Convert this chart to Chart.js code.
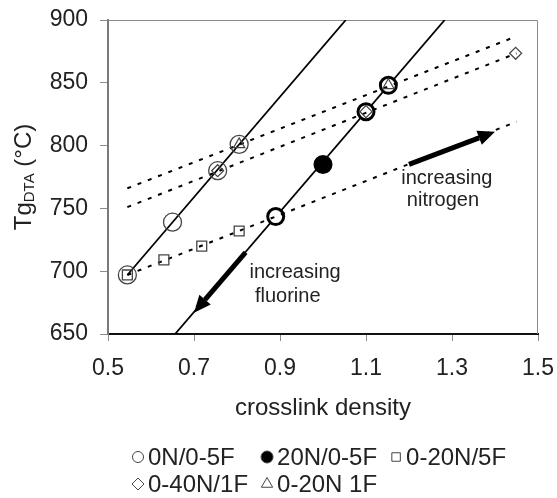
<!DOCTYPE html>
<html>
<head>
<meta charset="utf-8">
<title>Tg vs crosslink density</title>
<script src="https://cdn.jsdelivr.net/npm/chart.js@4.4.1/dist/chart.umd.min.js"></script>
<style>
    html, body { margin: 0; padding: 0; background: #fff; }
    #wrap { width: 557px; height: 498px; }
</style>
</head>
<body>
<div id="wrap"><canvas id="tgChart" width="557" height="498"></canvas></div>
<script>
// Values
const xTicks = [0.5, 0.7, 0.9, 1.1, 1.3, 1.5];
const yTicks = [650, 700, 750, 800, 850, 900];

const n0Density = [0.545, 0.65, 0.755, 0.805];
const n0Tg = [697, 739, 780, 801];

const n20Density = [0.89, 1.0, 1.1, 1.152];
const n20Tg = [743.5, 785, 827, 848];

const f5Density = [0.545, 0.63, 0.718, 0.805];
const f5Tg = [697, 709, 720, 732];

const n40f1Density = [0.755, 1.1, 1.448];
const n40f1Tg = [780, 827, 873.5];

const n20f1Density = [0.805, 1.152];
const n20f1Tg = [801, 848];

// Trendline ends, as drawn in the figure
const n0TrendX = [0.545, 1.053];
const n0TrendY = [697, 900];
const n20TrendX = [0.656, 1.283];
const n20TrendY = [650, 900];
const f5TrendX = [0.545, 1.45];
const f5TrendY = [697, 819];
const n40f1TrendX = [0.545, 1.45];
const n40f1TrendY = [751, 873.5];
const n20f1TrendX = [0.545, 1.45];
const n20f1TrendY = [766, 887];

const FONT = "'Liberation Sans', Arial, Helvetica, sans-serif";

function pts(xs, ys) {
    return xs.map((x, i) => ({ x: x, y: ys[i] }));
}

function trend(label, xs, ys, dashed, order) {
    return {
        label: label,
        data: pts(xs, ys),
        showLine: true,
        borderColor: '#000',
        borderWidth: dashed ? 2 : 1.8,
        borderDash: dashed ? [4, 7] : [],
        pointRadius: 0,
        pointHoverRadius: 0,
        fill: false,
        order: order,
        inLegend: false
    };
}

// Annotations (data units)
const notes = [
    { text: 'increasing', x: 1.288, y: 774 },
    { text: 'nitrogen', x: 1.279, y: 756 },
    { text: 'increasing', x: 0.935, y: 699 },
    { text: 'fluorine', x: 0.918, y: 680 }
];
const arrows = [
    { from: [1.20, 785], to: [1.40, 811] },
    { from: [0.82, 715], to: [0.70, 667] }
];

// y axis title with subscript
const yTitlePlugin = {
    id: 'yTitle',
    afterDraw(chart) {
        const ctx = chart.ctx;
        const area = chart.chartArea;
        const big = '24px ' + FONT;
        const small = '15px ' + FONT;
        ctx.save();
        ctx.font = big;
        const w1 = ctx.measureText('Tg').width;
        const w3 = ctx.measureText(' (°C)').width;
        ctx.font = small;
        const w2 = ctx.measureText('DTA').width;
        const total = w1 + w2 + w3;
        ctx.translate(24, (area.top + area.bottom) / 2);
        ctx.rotate(-Math.PI / 2);
        ctx.fillStyle = '#222';
        ctx.textBaseline = 'middle';
        ctx.textAlign = 'left';
        let x = -total / 2;
        ctx.font = big;
        ctx.fillText('Tg', x, 0);
        x += w1;
        ctx.font = small;
        ctx.fillText('DTA', x, 6);
        x += w2;
        ctx.font = big;
        ctx.fillText(' (°C)', x, 0);
        ctx.restore();
    }
};

// plot frame
const framePlugin = {
    id: 'frame',
    beforeDatasetsDraw(chart) {
        const ctx = chart.ctx;
        const a = chart.chartArea;
        ctx.save();
        ctx.strokeStyle = '#8a8a8a';
        ctx.lineWidth = 1;
        ctx.beginPath();
        ctx.moveTo(a.left, a.top + 0.5);
        ctx.lineTo(a.right - 0.5, a.top + 0.5);
        ctx.lineTo(a.right - 0.5, a.bottom);
        ctx.stroke();
        ctx.restore();
    }
};

// arrows and text inside the plot
const notesPlugin = {
    id: 'notes',
    afterDatasetsDraw(chart) {
        const ctx = chart.ctx;
        const xs = chart.scales.x;
        const ys = chart.scales.y;
        ctx.save();
        ctx.fillStyle = '#000';
        ctx.strokeStyle = '#000';
        arrows.forEach(a => {
            const x0 = xs.getPixelForValue(a.from[0]);
            const y0 = ys.getPixelForValue(a.from[1]);
            const x1 = xs.getPixelForValue(a.to[0]);
            const y1 = ys.getPixelForValue(a.to[1]);
            const ang = Math.atan2(y1 - y0, x1 - x0);
            const headLen = 17;
            const headHalf = 7.5;
            const bx = x1 - headLen * Math.cos(ang);
            const by = y1 - headLen * Math.sin(ang);
            ctx.lineWidth = 5;
            ctx.beginPath();
            ctx.moveTo(x0, y0);
            ctx.lineTo(bx, by);
            ctx.stroke();
            ctx.beginPath();
            ctx.moveTo(x1, y1);
            ctx.lineTo(bx + headHalf * Math.sin(ang), by - headHalf * Math.cos(ang));
            ctx.lineTo(bx - headHalf * Math.sin(ang), by + headHalf * Math.cos(ang));
            ctx.closePath();
            ctx.fill();
        });
        ctx.font = '20px ' + FONT;
        ctx.fillStyle = '#222';
        ctx.textAlign = 'center';
        ctx.textBaseline = 'middle';
        notes.forEach(n => {
            ctx.fillText(n.text, xs.getPixelForValue(n.x), ys.getPixelForValue(n.y));
        });
        ctx.restore();
    }
};

// legend in two rows, column layout like the original
const legendPlugin = {
    id: 'colLegend',
    afterDraw(chart) {
        const ctx = chart.ctx;
        const items = chart.data.datasets.filter(d => d.inLegend);
        const rows = [items.slice(0, 3), items.slice(3)];
        const rowY = [457, 484];
        const startX = 132;
        const markW = 12;
        const textGap = 4;
        const colGap = 13;
        ctx.save();
        ctx.font = '24px ' + FONT;
        // column widths from the widest entry in each column
        const colW = [0, 0, 0];
        rows.forEach(r => r.forEach((d, c) => {
            colW[c] = Math.max(colW[c], markW + textGap + ctx.measureText(d.label).width);
        }));
        rows.forEach((r, ri) => {
            let x = startX;
            r.forEach((d, c) => {
                const y = rowY[ri];
                ctx.fillStyle = d.legendFill;
                ctx.strokeStyle = '#444';
                ctx.lineWidth = 1;
                Chart.helpers.drawPoint(ctx, {
                    pointStyle: d.pointStyle,
                    radius: d.legendRadius,
                    borderWidth: 1,
                    rotation: 0
                }, x + markW / 2, y);
                ctx.fillStyle = '#222';
                ctx.textAlign = 'left';
                ctx.textBaseline = 'middle';
                ctx.fillText(d.label, x + markW + textGap, y + 1);
                x += colW[c] + colGap;
            });
        });
        ctx.restore();
    }
};

const ctx = document.getElementById('tgChart');

new Chart(ctx, {
    type: 'scatter',
    data: {
        datasets: [
            {
                label: '0N/0-5F',
                data: pts(n0Density, n0Tg),
                pointStyle: 'circle',
                pointRadius: 9,
                pointBorderWidth: 1.3,
                pointBorderColor: '#444',
                pointBackgroundColor: 'rgba(0,0,0,0)',
                order: 1,
                inLegend: true, legendFill: 'rgba(0,0,0,0)', legendRadius: 5.5
            },
            {
                label: '20N/0-5F',
                data: pts(n20Density, n20Tg),
                pointStyle: 'circle',
                pointRadius: 8,
                pointBorderWidth: 3,
                pointBorderColor: '#000',
                pointBackgroundColor: ['#fff', '#000', '#fff', '#fff'],
                order: 10,
                inLegend: true, legendFill: '#000', legendRadius: 6
            },
            {
                label: '0-20N/5F',
                data: pts(f5Density, f5Tg),
                pointStyle: 'rect',
                pointRadius: 7,
                pointBorderWidth: 1.3,
                pointBorderColor: '#444',
                pointBackgroundColor: 'rgba(0,0,0,0)',
                order: 1,
                inLegend: true, legendFill: 'rgba(0,0,0,0)', legendRadius: 6
            },
            {
                label: '0-40N/1F',
                data: pts(n40f1Density, n40f1Tg),
                pointStyle: 'rectRot',
                pointRadius: 6,
                pointBorderWidth: 1.2,
                pointBorderColor: '#444',
                pointBackgroundColor: 'rgba(0,0,0,0)',
                order: 1,
                inLegend: true, legendFill: 'rgba(0,0,0,0)', legendRadius: 6
            },
            {
                label: '0-20N 1F',
                data: pts(n20f1Density, n20f1Tg),
                pointStyle: 'triangle',
                pointRadius: 6.5,
                pointBorderWidth: 1.2,
                pointBorderColor: '#444',
                pointBackgroundColor: 'rgba(0,0,0,0)',
                order: 1,
                inLegend: true, legendFill: 'rgba(0,0,0,0)', legendRadius: 6.5
            },
            trend('trend 0N', n0TrendX, n0TrendY, false, 5),
            trend('trend 20N', n20TrendX, n20TrendY, false, 11),
            trend('trend 5F', f5TrendX, f5TrendY, true, 5),
            trend('trend 0-40N', n40f1TrendX, n40f1TrendY, true, 5),
            trend('trend 0-20N', n20f1TrendX, n20f1TrendY, true, 5)
        ]
    },
    options: {
        responsive: false,
        animation: false,
        devicePixelRatio: 1,
        layout: {
            padding: { left: 0, top: 20, right: 19, bottom: 0 }
        },
        plugins: {
            legend: { display: false },
            tooltip: { enabled: false }
        },
        scales: {
            x: {
                type: 'linear',
                min: 0.5,
                max: 1.5,
                afterBuildTicks: s => { s.ticks = xTicks.map(v => ({ value: v })); },
                afterFit: s => {
                    s.height = 164;
                    // end labels fit in the layout padding
                    s.paddingLeft = 0;
                    s.paddingRight = 0;
                },
                ticks: {
                    callback: v => v.toFixed(1),
                    font: { size: 23, family: FONT },
                    color: '#222',
                    padding: 14,
                    maxRotation: 0,
                    autoSkip: false
                },
                grid: { drawOnChartArea: false, drawTicks: true, tickLength: 7, color: '#8c8c8c' },
                border: { display: true, color: '#111', width: 2 },
                title: {
                    display: true,
                    text: 'crosslink density',
                    font: { size: 24, family: FONT },
                    color: '#222',
                    padding: { top: 0, bottom: 75 }
                }
            },
            y: {
                type: 'linear',
                min: 650,
                max: 900,
                afterBuildTicks: s => { s.ticks = yTicks.map(v => ({ value: v })); },
                afterFit: s => {
                    s.width = 108;
                    s.paddingTop = 0;
                    s.paddingBottom = 0;
                },
                ticks: {
                    font: { size: 23, family: FONT },
                    color: '#222',
                    padding: 12
                },
                grid: { drawOnChartArea: false, drawTicks: true, tickLength: 8, color: '#8c8c8c' },
                border: { display: true, color: '#7a7a7a', width: 2 }
            }
        }
    },
    plugins: [framePlugin, notesPlugin, yTitlePlugin, legendPlugin]
});
</script>
</body>
</html>
